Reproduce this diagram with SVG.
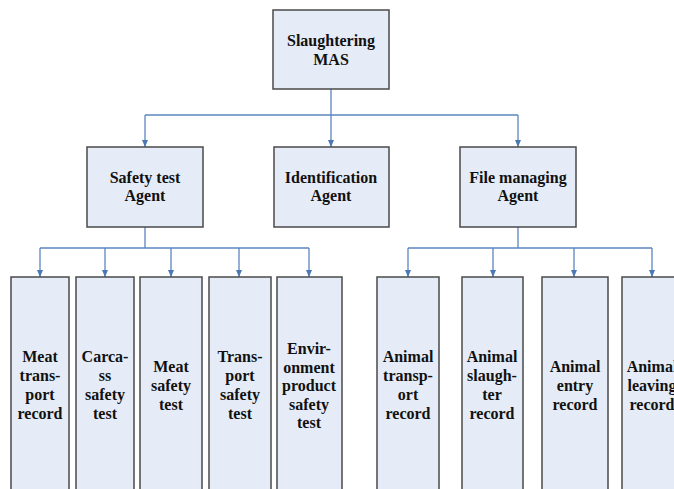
<svg xmlns="http://www.w3.org/2000/svg" width="674" height="489" viewBox="0 0 674 489">
  <defs>
    <marker id="arr" markerWidth="8" markerHeight="6" refX="7" refY="3" orient="auto" markerUnits="userSpaceOnUse">
      <path d="M0,0 L7,3 L0,6 Z" fill="#4a78b5"/>
    </marker>
    <style>
      .box { fill: #e6ecf7; stroke: #4a4a4a; stroke-width: 1.5; }
      .lbl { font-family: 'Liberation Serif', 'Times New Roman', serif; font-weight: bold; font-size: 16px; fill: #111; text-anchor: middle; }
      .wire { fill: none; stroke: #5b86c0; stroke-width: 1.3; }
      .tip { fill: none; stroke: #5b86c0; stroke-width: 1.3; marker-end: url(#arr); }
    </style>
  </defs>
  <rect width="674" height="489" fill="#ffffff"/>

  <!-- connectors -->
  <g id="connectors">
    <path class="wire" d="M331,89 V115 M145,115 H518"/>
    <path class="tip" d="M145,115 V147"/>
    <path class="tip" d="M331,115 V147"/>
    <path class="tip" d="M518,115 V147"/>

    <path class="wire" d="M145,227 V248 M40,248 H309"/>
    <path class="tip" d="M40,248 V277"/>
    <path class="tip" d="M105,248 V277"/>
    <path class="tip" d="M171,248 V277"/>
    <path class="tip" d="M239,248 V277"/>
    <path class="tip" d="M309,248 V277"/>

    <path class="wire" d="M518,227 V248 M408,248 H652"/>
    <path class="tip" d="M408,248 V277"/>
    <path class="tip" d="M493,248 V277"/>
    <path class="tip" d="M574,248 V277"/>
    <path class="tip" d="M652,248 V277"/>
  </g>

  <g font-family="Liberation Serif, Times New Roman, serif">
  <!-- root -->
  <g id="slaughtering-mas">
    <rect class="box" x="273" y="10" width="116" height="79"/>
    <text class="lbl" x="331" y="46">Slaughtering</text>
    <text class="lbl" x="331" y="65">MAS</text>
  </g>

  <!-- agents -->
  <g id="safety-test-agent">
    <rect class="box" x="87" y="147" width="116" height="80"/>
    <text class="lbl" x="145" y="183">Safety test</text>
    <text class="lbl" x="145" y="201">Agent</text>
  </g>
  <g id="identification-agent">
    <rect class="box" x="274" y="147" width="115" height="80"/>
    <text class="lbl" x="331" y="183">Identification</text>
    <text class="lbl" x="331" y="201">Agent</text>
  </g>
  <g id="file-managing-agent">
    <rect class="box" x="460" y="147" width="116" height="80"/>
    <text class="lbl" x="518" y="183">File managing</text>
    <text class="lbl" x="518" y="201">Agent</text>
  </g>

  <!-- safety test leaves -->
  <g id="meat-transport-record">
    <rect class="box" x="11" y="277" width="58" height="230"/>
    <text class="lbl" x="40" y="362">Meat</text>
    <text class="lbl" x="40" y="381">trans-</text>
    <text class="lbl" x="40" y="400">port</text>
    <text class="lbl" x="40" y="419">record</text>
  </g>
  <g id="carcass-safety-test">
    <rect class="box" x="76" y="277" width="58" height="230"/>
    <text class="lbl" x="105" y="362">Carca-</text>
    <text class="lbl" x="105" y="381">ss</text>
    <text class="lbl" x="105" y="400">safety</text>
    <text class="lbl" x="105" y="419">test</text>
  </g>
  <g id="meat-safety-test">
    <rect class="box" x="140" y="277" width="62" height="230"/>
    <text class="lbl" x="171" y="372">Meat</text>
    <text class="lbl" x="171" y="391">safety</text>
    <text class="lbl" x="171" y="410">test</text>
  </g>
  <g id="transport-safety-test">
    <rect class="box" x="209" y="277" width="62" height="230"/>
    <text class="lbl" x="240" y="362">Trans-</text>
    <text class="lbl" x="240" y="381">port</text>
    <text class="lbl" x="240" y="400">safety</text>
    <text class="lbl" x="240" y="419">test</text>
  </g>
  <g id="environment-product-safety-test">
    <rect class="box" x="277" y="277" width="65" height="230"/>
    <text class="lbl" x="309" y="354">Envir-</text>
    <text class="lbl" x="309" y="372.5">onment</text>
    <text class="lbl" x="309" y="391">product</text>
    <text class="lbl" x="309" y="409.5">safety</text>
    <text class="lbl" x="309" y="428">test</text>
  </g>

  <!-- file managing leaves -->
  <g id="animal-transport-record">
    <rect class="box" x="377" y="277" width="62" height="230"/>
    <text class="lbl" x="408" y="362">Animal</text>
    <text class="lbl" x="408" y="381">transp-</text>
    <text class="lbl" x="408" y="400">ort</text>
    <text class="lbl" x="408" y="419">record</text>
  </g>
  <g id="animal-slaughter-record">
    <rect class="box" x="462" y="277" width="61" height="230"/>
    <text class="lbl" x="492" y="362">Animal</text>
    <text class="lbl" x="492" y="381">slaugh-</text>
    <text class="lbl" x="492" y="400">ter</text>
    <text class="lbl" x="492" y="419">record</text>
  </g>
  <g id="animal-entry-record">
    <rect class="box" x="542" y="277" width="66" height="230"/>
    <text class="lbl" x="575" y="372">Animal</text>
    <text class="lbl" x="575" y="391">entry</text>
    <text class="lbl" x="575" y="410">record</text>
  </g>
  <g id="animal-leaving-record">
    <rect class="box" x="622" y="277" width="64" height="230"/>
    <text class="lbl" x="652" y="372">Animal</text>
    <text class="lbl" x="652" y="391">leaving</text>
    <text class="lbl" x="652" y="410">record</text>
  </g>
  </g>
</svg>
